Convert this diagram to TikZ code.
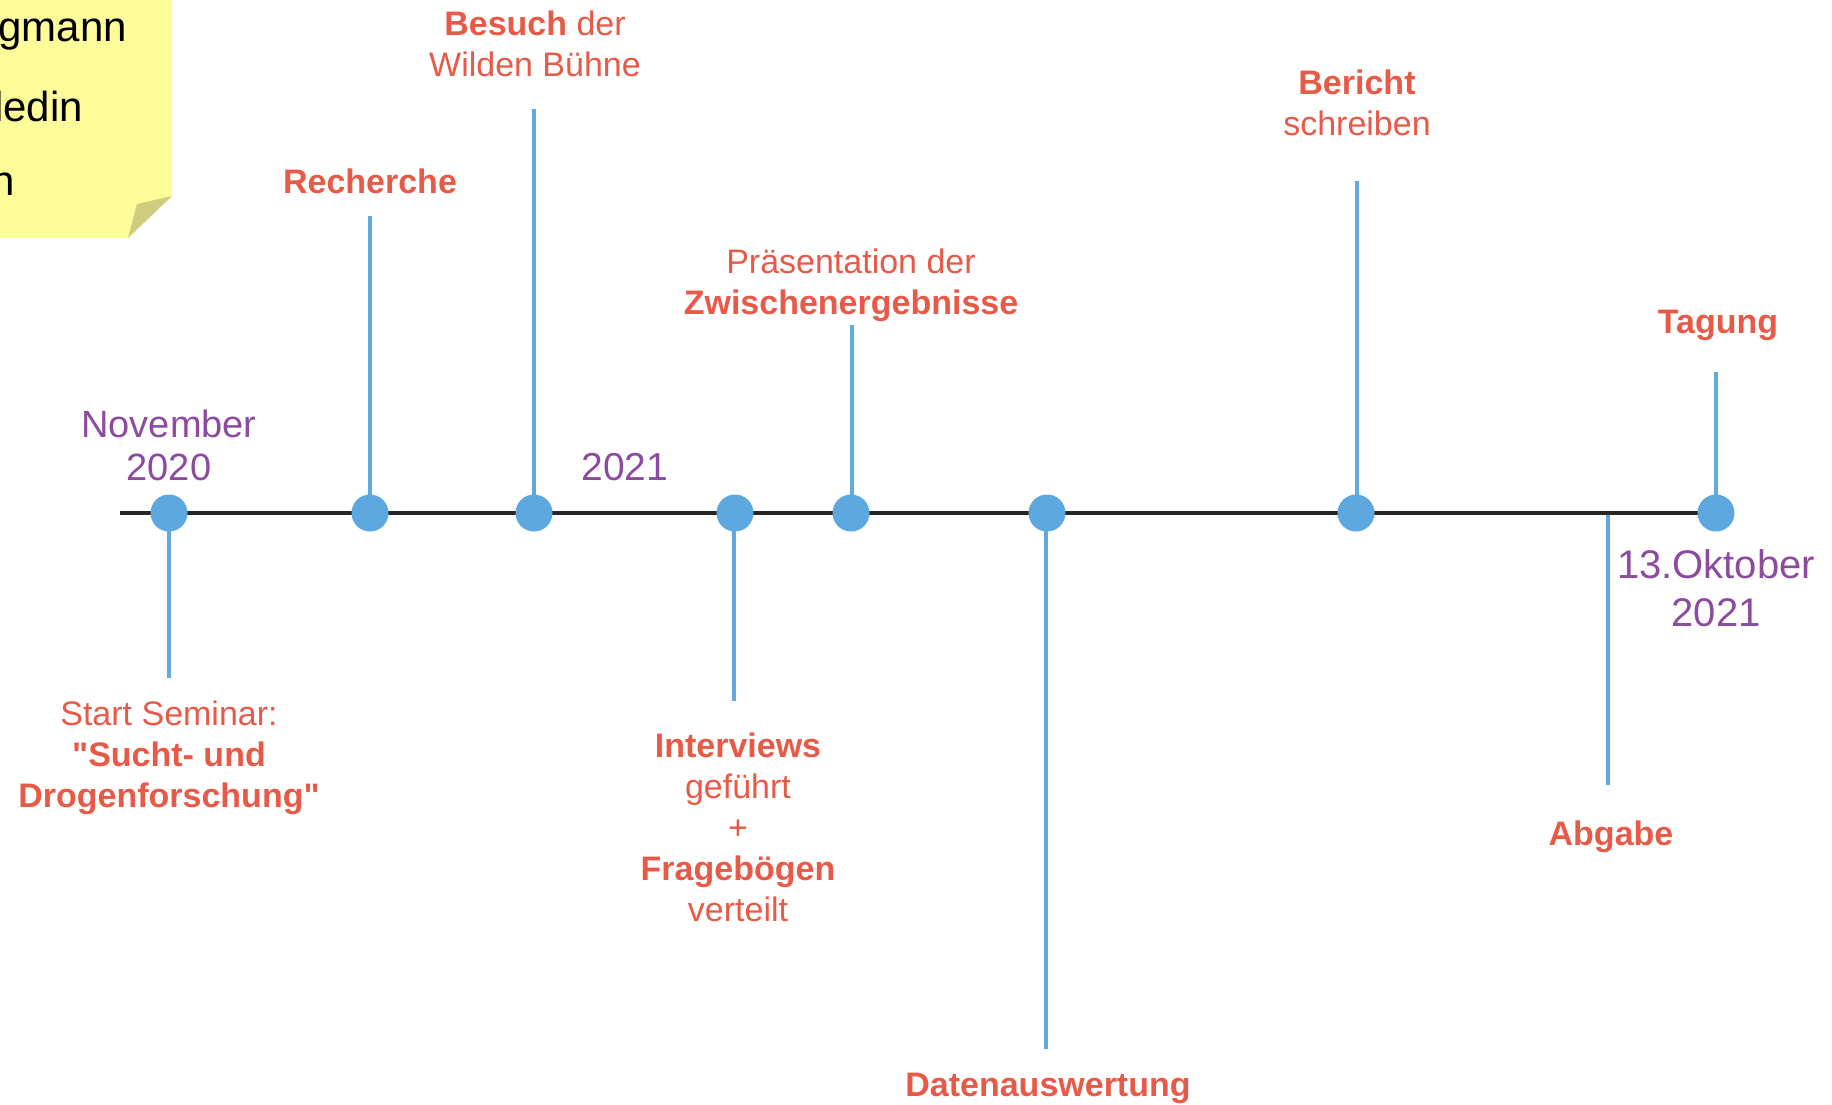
\documentclass[tikz,border=0pt]{standalone}
\usepackage{fontspec}
\setmainfont{Liberation Sans}[Ligatures=TeXOff]
\definecolor{lblred}{HTML}{E85A48}
\definecolor{datepurple}{HTML}{8C4B9F}
\definecolor{dotblue}{HTML}{5DA8DF}
\definecolor{stemblue}{HTML}{62A9DD}
\definecolor{noteyellow}{HTML}{FFFC9A}
\definecolor{notefold}{HTML}{CFCD80}
\begin{document}
\begin{tikzpicture}[x=1pt,y=-1pt,
  dotnode/.style={circle, fill=dotblue, minimum size=37pt, inner sep=0},
  stemline/.style={draw=stemblue, line width=3.5pt},
  timeline/.style={draw=black!85, line width=3.5pt},
  lbl/.style={text=lblred, font=\fontsize{34}{41}\selectfont, align=center, inner sep=0},
  datelbl/.style={text=datepurple, font=\fontsize{39}{45}\selectfont, align=center, inner sep=0},
  notetext/.style={text=black, font=\fontsize{42}{50}\selectfont, inner sep=0, anchor=east}]
\useasboundingbox (0,0) rectangle (1832,1105);
% sticky note
\begin{scope}
  \clip (0,0) -- (172,0) -- (172,196) -- (128,238) -- (0,238) -- cycle;
  \fill[noteyellow] (0,0) rectangle (172,238);
  \node[notetext] (n1) at (127,35) {gmann};
  \node[notetext] (n2) at (83,106) {ledin};
  \node[notetext] (n3) at (15,184) {n};
\end{scope}
\fill[notefold] (172,196) -- (128,238) -- (137,204) -- cycle;
% timeline
\coordinate (tl0) at (120,513);
\coordinate (tl1) at (1716,513);
\draw[timeline] (tl0) -- (tl1);
% stem ends
\coordinate (s1) at (169,678);
\coordinate (s2) at (370,216);
\coordinate (s3) at (534,109);
\coordinate (s4) at (734,701);
\coordinate (s5) at (852,325);
\coordinate (s6) at (1046,1049);
\coordinate (s7) at (1357,181);
\coordinate (s8) at (1716,372);
\coordinate (a1) at (1608,515);
\coordinate (a2) at (1608,785);
\draw[stemline] (169,513) -- (s1);
\draw[stemline] (370,513) -- (s2);
\draw[stemline] (534,513) -- (s3);
\draw[stemline] (734,513) -- (s4);
\draw[stemline] (852,513) -- (s5);
\draw[stemline] (1046,513) -- (s6);
\draw[stemline] (1357,513) -- (s7);
\draw[stemline] (1716,513) -- (s8);
\draw[stemline] (a1) -- (a2);
% dots
\node[dotnode] (d1) at (169,513) {};
\node[dotnode] (d2) at (370,513) {};
\node[dotnode] (d3) at (534,513) {};
\node[dotnode] (d4) at (735,513) {};
\node[dotnode] (d5) at (851,513) {};
\node[dotnode] (d6) at (1047,513) {};
\node[dotnode] (d7) at (1356,513) {};
\node[dotnode] (d8) at (1716,513) {};
% labels
\node[lbl] (l1) at (169,757.5) {Start Seminar:\\\textbf{"Sucht- und}\\\textbf{Drogenforschung"}};
\node[lbl] (l2) at (370,181) {\textbf{Recherche}};
\node[lbl] (l3) at (535,43.5) {\textbf{Besuch} der\\Wilden Bühne};
\node[lbl] (l4) at (738,827) {\textbf{Interviews}\\geführt\\+\\\textbf{Fragebögen}\\verteilt};
\node[lbl] (l5) at (851,285) {Präsentation der\\\textbf{Zwischenergebnisse}};
\node[lbl] (l6) at (1048,1088) {\textbf{Datenauswertung}};
\node[lbl] (l7) at (1357,103) {\textbf{Bericht}\\schreiben};
\node[lbl] (l8) at (1611,837) {\textbf{Abgabe}};
\node[lbl] (l9) at (1718,325) {\textbf{Tagung}};
% dates
\node[datelbl, font=\fontsize{38}{43}\selectfont] (t1) at (169,445.5) {November\\2020};
\node[datelbl] (t2) at (625,467) {2021};
\node[datelbl, font=\fontsize{40}{48}\selectfont] (t3) at (1716,588) {13.Oktober\\2021};
\end{tikzpicture}
\end{document}
